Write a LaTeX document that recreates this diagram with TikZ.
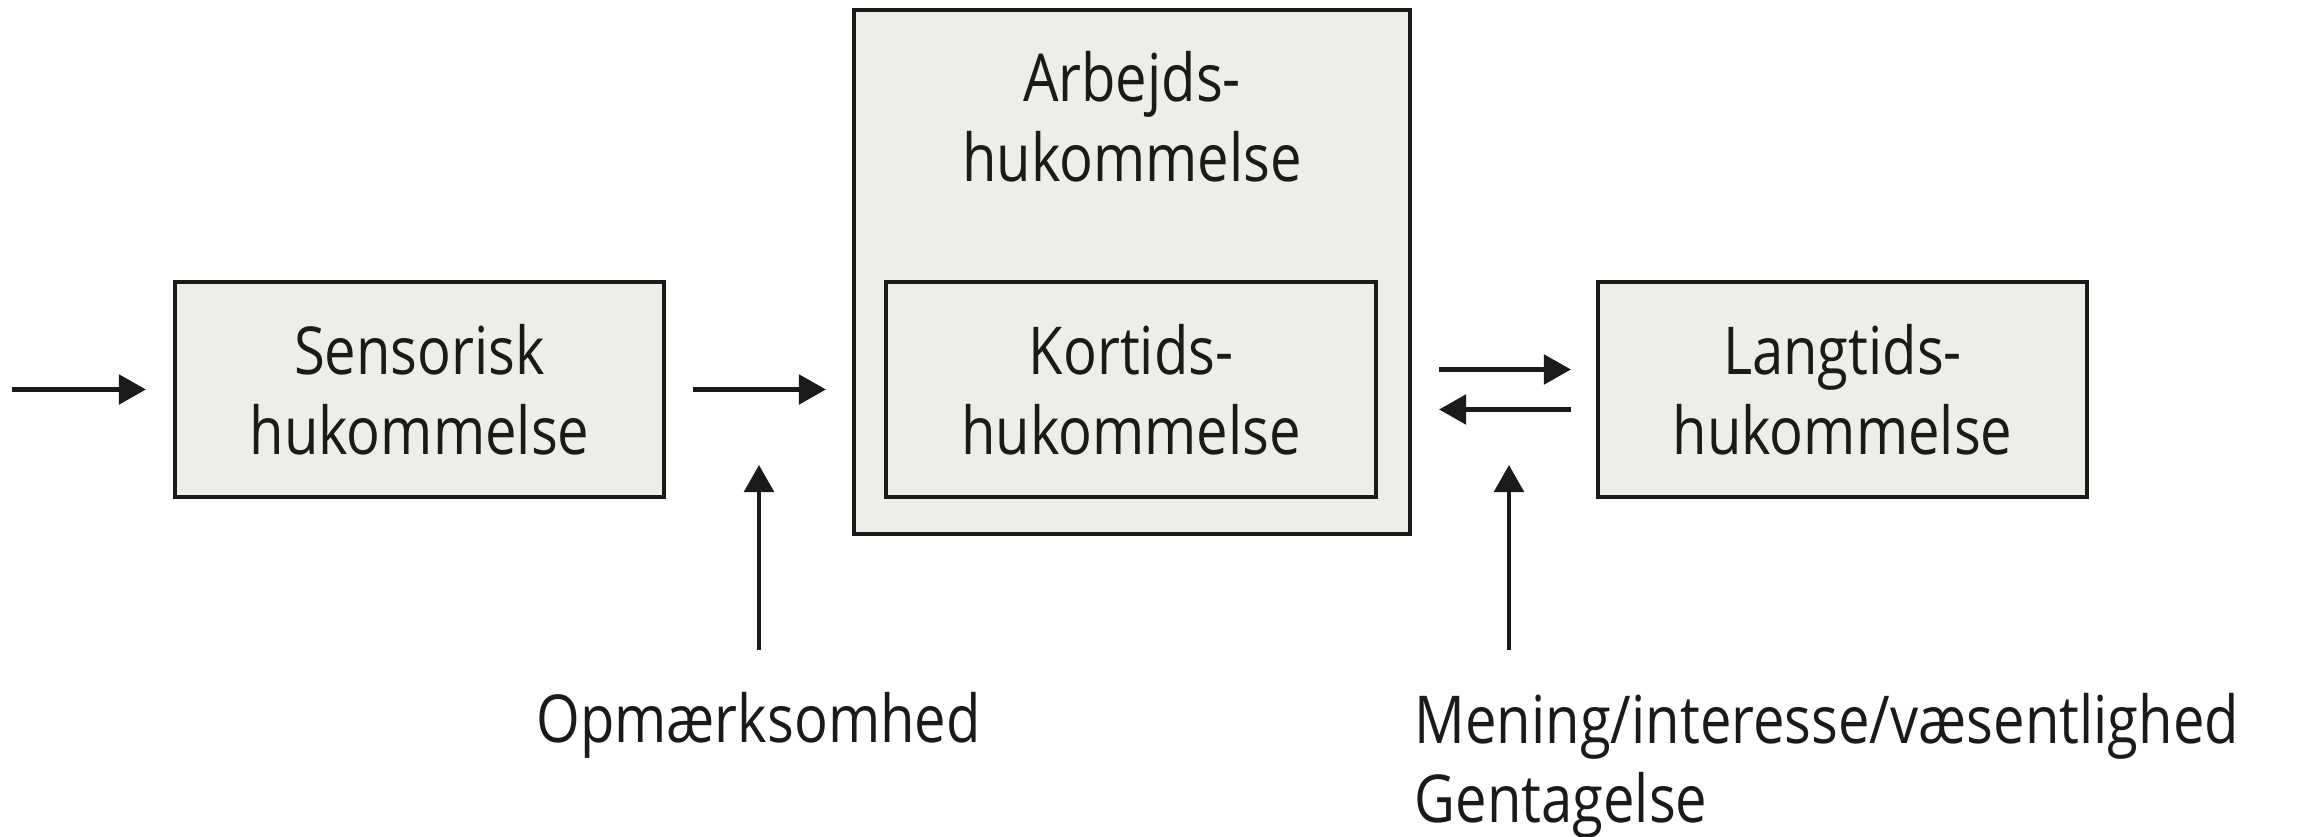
\documentclass[tikz,border=0pt]{standalone}
\usepackage{fontspec}
\setmainfont{Open Sans}[FakeStretch=0.85]
\usetikzlibrary{arrows.meta}

\definecolor{boxfill}{RGB}{239,237,232}
\definecolor{ink}{RGB}{26,26,24}

\tikzset{
  memo/.style={draw=ink,fill=boxfill,line width=1.2pt,inner sep=0pt,align=center,text=ink},
  lbl/.style={inner sep=0pt,text=ink},
  arr/.style={draw=ink,line width=1.15pt,-{Triangle[length=7.7pt,width=8.4pt]}}
}

\begin{document}
\begin{tikzpicture}[font=\fontsize{18.8}{22.7}\selectfont]
  \useasboundingbox (0,0) rectangle (23.05,8.37);
  % the memory stores
  \node[memo,minimum width=4.89cm,minimum height=2.15cm] (sensorisk) at (4.195,4.475)
       {Sensorisk\\hukommelse};
  \node[memo,minimum width=5.56cm,minimum height=5.24cm] (arbejds) at (11.32,5.65) {};
  \node[lbl,align=center] (arbejdstxt) at (11.32,7.205) {Arbejds-\\hukommelse};
  \node[memo,minimum width=4.90cm,minimum height=2.15cm] (kortids) at (11.31,4.475)
       {Kortids-\\hukommelse};
  \node[memo,minimum width=4.89cm,minimum height=2.15cm] (langtids) at (18.425,4.475)
       {Langtids-\\hukommelse};
  %
  % what lets things through
  \node[lbl,anchor=base] (opm) at (7.585,.94) {Opmærksomhed};
  \node[lbl,anchor=base west,align=left] (mening) at (14.14,.14)
       {Mening/interesse/væsentlighed\\Gentagelse};
  \coordinate (input) at (.12,4.475);
  \coordinate (opmtip) at (7.59,3.72);
  \coordinate (meningtip) at (15.09,3.72);
  %
  \draw[arr,shorten >=.27cm] (input) -- (sensorisk.west);
  \draw[arr,shorten <=.27cm,shorten >=.26cm] (sensorisk.east) -- (sensorisk.east -| arbejds.west);
  \draw[arr,shorten <=.27cm,shorten >=.25cm]
       ([yshift=.2cm]langtids.west -| arbejds.east) -- ([yshift=.2cm]langtids.west);
  \draw[arr,shorten <=.25cm,shorten >=.27cm]
       ([yshift=-.2cm]langtids.west) -- ([yshift=-.2cm]langtids.west -| arbejds.east);
  %
  \draw[arr,shorten <=.42cm] (opm.north -| opmtip) -- (opmtip);
  \draw[arr,shorten <=.42cm] (mening.north -| meningtip) -- (meningtip);
\end{tikzpicture}
\end{document}
